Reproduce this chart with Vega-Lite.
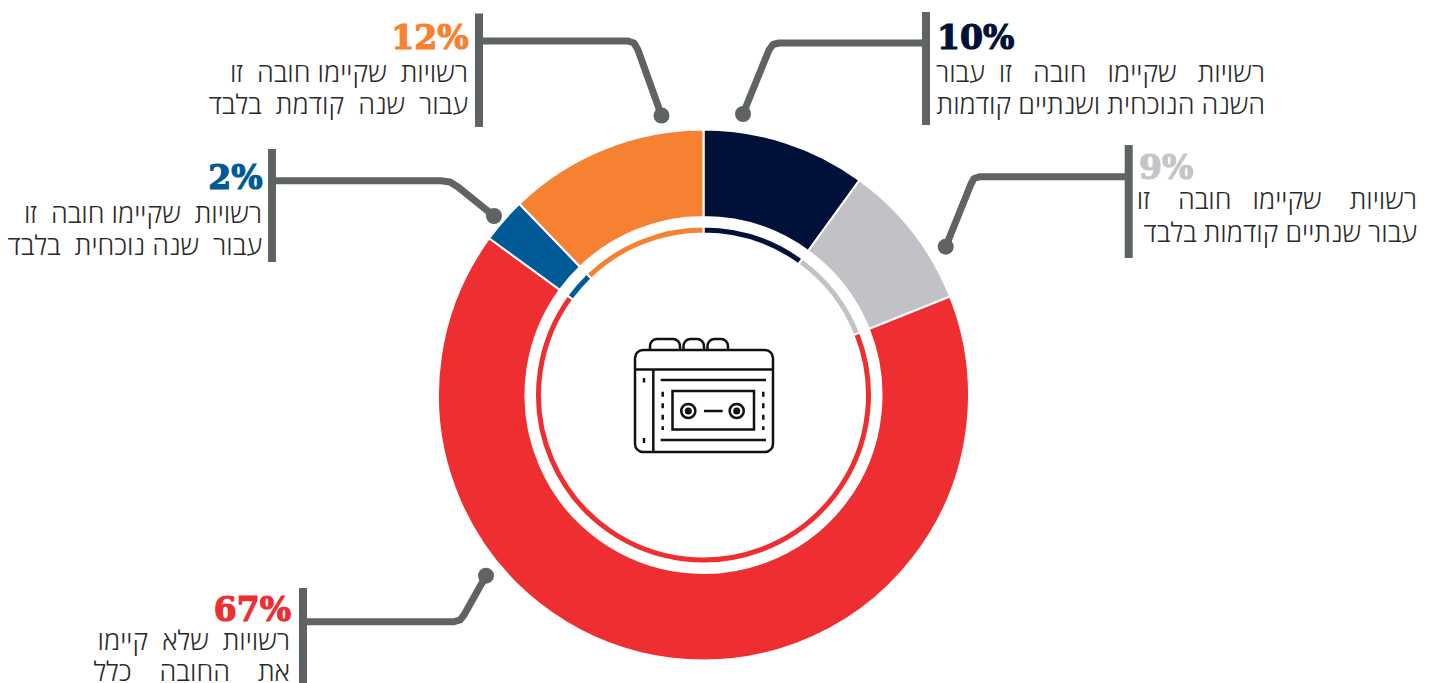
{
"$schema":"https://vega.github.io/schema/vega-lite/v6.json",
"width":1434,"height":683,"padding":0,"autosize":{"type":"none"},"background":"white",
"config":{"view":{"stroke":null},"axis":{"disable":true}},
"datasets":{
"segments":[
{"order":1,"name":"שנה נוכחית ושנתיים קודמות","share":10},
{"order":2,"name":"שנתיים קודמות בלבד","share":8.95},
{"order":3,"name":"לא קיימו כלל","share":66.1},
{"order":4,"name":"שנה נוכחית בלבד","share":2.75},
{"order":5,"name":"שנה קודמת בלבד","share":12.2}],
"bars":[
{"x":926,"y":12,"y2":125},{"x":479,"y":13.5,"y2":127},{"x":272,"y":149,"y2":262},{"x":303,"y":588,"y2":683},{"x":1128.7,"y":145,"y2":258}],
"leaders":[
{"g":"a","i":1,"x":926,"y":43},{"g":"a","i":2,"x":779,"y":43},{"g":"a","i":3,"x":773,"y":44.5},{"g":"a","i":4,"x":769,"y":50},{"g":"a","i":5,"x":743,"y":114},
{"g":"b","i":1,"x":479,"y":41},{"g":"b","i":2,"x":628,"y":41},{"g":"b","i":3,"x":634,"y":43},{"g":"b","i":4,"x":638,"y":50},{"g":"b","i":5,"x":661.5,"y":115.5},
{"g":"c","i":1,"x":272,"y":180.7},{"g":"c","i":2,"x":441,"y":180.7},{"g":"c","i":3,"x":450,"y":182},{"g":"c","i":4,"x":458,"y":187},{"g":"c","i":5,"x":494,"y":216},
{"g":"d","i":1,"x":303,"y":621.7},{"g":"d","i":2,"x":454,"y":621.7},{"g":"d","i":3,"x":460,"y":620},{"g":"d","i":4,"x":464,"y":615},{"g":"d","i":5,"x":486,"y":575.7},
{"g":"e","i":1,"x":1128,"y":176.7},{"g":"e","i":2,"x":980,"y":176.7},{"g":"e","i":3,"x":974,"y":178.5},{"g":"e","i":4,"x":971,"y":184},{"g":"e","i":5,"x":945.7,"y":246.7}],
"dots":[{"x":743,"y":114},{"x":661.5,"y":115.5},{"x":494,"y":216},{"x":486,"y":575.7},{"x":945.7,"y":246.7}],
"pctLeft":[{"x":937,"y":49,"t":"10%","c":"#001139"},{"x":1139,"y":179,"t":"9%","c":"#c4c5c8"}],
"pctRight":[{"x":468.5,"y":49,"t":"12%","c":"#f58131"},{"x":262.5,"y":189,"t":"2%","c":"#005a96"},{"x":291,"y":620.5,"t":"67%","c":"#ef2e31"}],
"lines":[
{"x":1265,"y":82,"t":"רשויות \u00a0\u00a0שקיימו \u00a0\u00a0חובה \u00a0\u00a0זו \u00a0עבור"},
{"x":1265,"y":114,"t":"השנה הנוכחית ושנתיים קודמות"},
{"x":468,"y":82,"t":"רשויות \u00a0שקיימו חובה \u00a0זו"},
{"x":468,"y":114,"t":"עבור \u00a0שנה \u00a0קודמת \u00a0בלבד"},
{"x":262,"y":223,"t":"רשויות \u00a0שקיימו חובה \u00a0זו"},
{"x":262,"y":255,"t":"עבור \u00a0שנה נוכחית \u00a0בלבד"},
{"x":290,"y":650,"t":"רשויות \u00a0שלא \u00a0קיימו"},
{"x":290,"y":681,"t":"את \u00a0\u00a0\u00a0החובה \u00a0\u00a0\u00a0כלל"},
{"x":1417,"y":209,"t":"רשויות \u00a0\u00a0\u00a0שקיימו \u00a0\u00a0חובה \u00a0\u00a0\u00a0זו"},
{"x":1417,"y":241.5,"t":"עבור שנתיים קודמות בלבד"}],
"iconButtons":[{"x":650,"x2":680,"y":339,"y2":356},{"x":683.5,"x2":704,"y":339,"y2":356},{"x":707.5,"x2":728,"y":339,"y2":356}],
"iconBody":[{"x":635,"x2":773,"y":350,"y2":452}],
"iconTape":[{"x":672.5,"x2":754,"y":391,"y2":429.5}],
"iconRules":[
{"x":635,"x2":773,"y":369.5,"y2":369.5},{"x":660.7,"x2":766,"y":380,"y2":380},{"x":660.7,"x2":766,"y":440,"y2":440},{"x":704,"x2":722.7,"y":411,"y2":411},{"x":653.3,"x2":653.3,"y":369.5,"y2":452},{"x":644,"x2":644,"y":378,"y2":382.5},{"x":644,"x2":644,"y":438,"y2":443}],
"iconDashes":[{"x":662.7,"y":391.7,"y2":430},{"x":763.3,"y":391.7,"y2":430}],
"iconHubs":[{"x":688.3,"y":411},{"x":736.7,"y":411}]
},
"layer":[
{"data":{"name":"segments"},
 "transform":[{"stack":"share","groupby":[],"sort":[{"field":"order","order":"ascending"}],"as":["start","end"]}],
 "layer":[
 {"mark":{"type":"arc","radius":265.5,"radius2":178,"stroke":"white","strokeWidth":2},
  "encoding":{"x":{"datum":703.5,"type":"quantitative","scale":{"domain":[0,1434],"range":[0,1434]}},"y":{"datum":395,"type":"quantitative","scale":{"domain":[0,683],"range":[0,683]}},
  "theta":{"field":"start","type":"quantitative","stack":null,"scale":{"domain":[0,100]}},"theta2":{"field":"end"},
  "color":{"field":"order","type":"nominal","legend":null,"scale":{"domain":[1,2,3,4,5],"range":["#001139","#c1c2c6","#ef2e31","#005a96","#f58131"]}}}},
 {"mark":{"type":"arc","radius":168.5,"radius2":161.5,"stroke":"white","strokeWidth":2},
  "encoding":{"x":{"datum":703.5,"type":"quantitative","scale":{"domain":[0,1434],"range":[0,1434]}},"y":{"datum":395,"type":"quantitative","scale":{"domain":[0,683],"range":[0,683]}},
  "theta":{"field":"start","type":"quantitative","stack":null,"scale":{"domain":[0,100]}},"theta2":{"field":"end"},
  "color":{"field":"order","type":"nominal","legend":null}}}
 ]},
{"data":{"name":"leaders"},"mark":{"type":"line","stroke":"#5f6363","strokeWidth":7,"strokeJoin":"round"},
 "encoding":{"x":{"field":"x","type":"quantitative","scale":{"domain":[0,1434],"range":[0,1434]}},"y":{"field":"y","type":"quantitative","scale":{"domain":[0,683],"range":[0,683]}},"detail":{"field":"g"},"order":{"field":"i"}}},
{"data":{"name":"bars"},"mark":{"type":"rule","stroke":"#5f6363","strokeWidth":8},
 "encoding":{"x":{"field":"x","type":"quantitative","scale":{"domain":[0,1434],"range":[0,1434]}},"y":{"field":"y","type":"quantitative","scale":{"domain":[0,683],"range":[0,683]}},"y2":{"field":"y2"}}},
{"data":{"name":"dots"},"mark":{"type":"point","shape":"circle","filled":true,"fill":"#5f6363","opacity":1,"size":256,"strokeWidth":0},
 "encoding":{"x":{"field":"x","type":"quantitative","scale":{"domain":[0,1434],"range":[0,1434]}},"y":{"field":"y","type":"quantitative","scale":{"domain":[0,683],"range":[0,683]}}}},
{"data":{"name":"pctLeft"},"mark":{"type":"text","align":"left","baseline":"alphabetic","font":"DejaVu Serif","fontWeight":"bold","fontSize":33,"strokeWidth":1.2},
 "encoding":{"x":{"field":"x","type":"quantitative","scale":{"domain":[0,1434],"range":[0,1434]}},"y":{"field":"y","type":"quantitative","scale":{"domain":[0,683],"range":[0,683]}},"text":{"field":"t"},"color":{"field":"c","type":"nominal","scale":null},"stroke":{"field":"c","type":"nominal","scale":null}}},
{"data":{"name":"pctRight"},"mark":{"type":"text","align":"right","baseline":"alphabetic","font":"DejaVu Serif","fontWeight":"bold","fontSize":33,"strokeWidth":1.2},
 "encoding":{"x":{"field":"x","type":"quantitative","scale":{"domain":[0,1434],"range":[0,1434]}},"y":{"field":"y","type":"quantitative","scale":{"domain":[0,683],"range":[0,683]}},"text":{"field":"t"},"color":{"field":"c","type":"nominal","scale":null},"stroke":{"field":"c","type":"nominal","scale":null}}},
{"data":{"name":"lines"},"mark":{"type":"text","align":"right","baseline":"alphabetic","font":"Open Sans","fontWeight":300,"fontSize":27,"fill":"#2a2a2a"},
 "encoding":{"x":{"field":"x","type":"quantitative","scale":{"domain":[0,1434],"range":[0,1434]}},"y":{"field":"y","type":"quantitative","scale":{"domain":[0,683],"range":[0,683]}},"text":{"field":"t"}}},
{"data":{"name":"iconButtons"},"mark":{"type":"rect","fill":"white","stroke":"#111111","strokeWidth":2.5,"cornerRadius":7},
 "encoding":{"x":{"field":"x","type":"quantitative","scale":{"domain":[0,1434],"range":[0,1434]}},"x2":{"field":"x2"},"y":{"field":"y","type":"quantitative","scale":{"domain":[0,683],"range":[0,683]}},"y2":{"field":"y2"}}},
{"data":{"name":"iconBody"},"mark":{"type":"rect","fill":"white","stroke":"#111111","strokeWidth":2.5,"cornerRadius":8},
 "encoding":{"x":{"field":"x","type":"quantitative","scale":{"domain":[0,1434],"range":[0,1434]}},"x2":{"field":"x2"},"y":{"field":"y","type":"quantitative","scale":{"domain":[0,683],"range":[0,683]}},"y2":{"field":"y2"}}},
{"data":{"name":"iconTape"},"mark":{"type":"rect","fill":"white","stroke":"#111111","strokeWidth":2.5},
 "encoding":{"x":{"field":"x","type":"quantitative","scale":{"domain":[0,1434],"range":[0,1434]}},"x2":{"field":"x2"},"y":{"field":"y","type":"quantitative","scale":{"domain":[0,683],"range":[0,683]}},"y2":{"field":"y2"}}},
{"data":{"name":"iconRules"},"mark":{"type":"rule","stroke":"#111111","strokeWidth":2.5},
 "encoding":{"x":{"field":"x","type":"quantitative","scale":{"domain":[0,1434],"range":[0,1434]}},"x2":{"field":"x2"},"y":{"field":"y","type":"quantitative","scale":{"domain":[0,683],"range":[0,683]}},"y2":{"field":"y2"}}},
{"data":{"name":"iconDashes"},"mark":{"type":"rule","stroke":"#111111","strokeWidth":2.5,"strokeDash":[5,6.5]},
 "encoding":{"x":{"field":"x","type":"quantitative","scale":{"domain":[0,1434],"range":[0,1434]}},"y":{"field":"y","type":"quantitative","scale":{"domain":[0,683],"range":[0,683]}},"y2":{"field":"y2"}}},
{"data":{"name":"iconHubs"},"mark":{"type":"point","shape":"circle","fill":"white","stroke":"#111111","strokeWidth":2.5,"opacity":1,"size":200},
 "encoding":{"x":{"field":"x","type":"quantitative","scale":{"domain":[0,1434],"range":[0,1434]}},"y":{"field":"y","type":"quantitative","scale":{"domain":[0,683],"range":[0,683]}}}},
{"data":{"name":"iconHubs"},"mark":{"type":"point","shape":"circle","filled":true,"fill":"#111111","opacity":1,"size":50,"strokeWidth":0},
 "encoding":{"x":{"field":"x","type":"quantitative","scale":{"domain":[0,1434],"range":[0,1434]}},"y":{"field":"y","type":"quantitative","scale":{"domain":[0,683],"range":[0,683]}}}}
]
}
